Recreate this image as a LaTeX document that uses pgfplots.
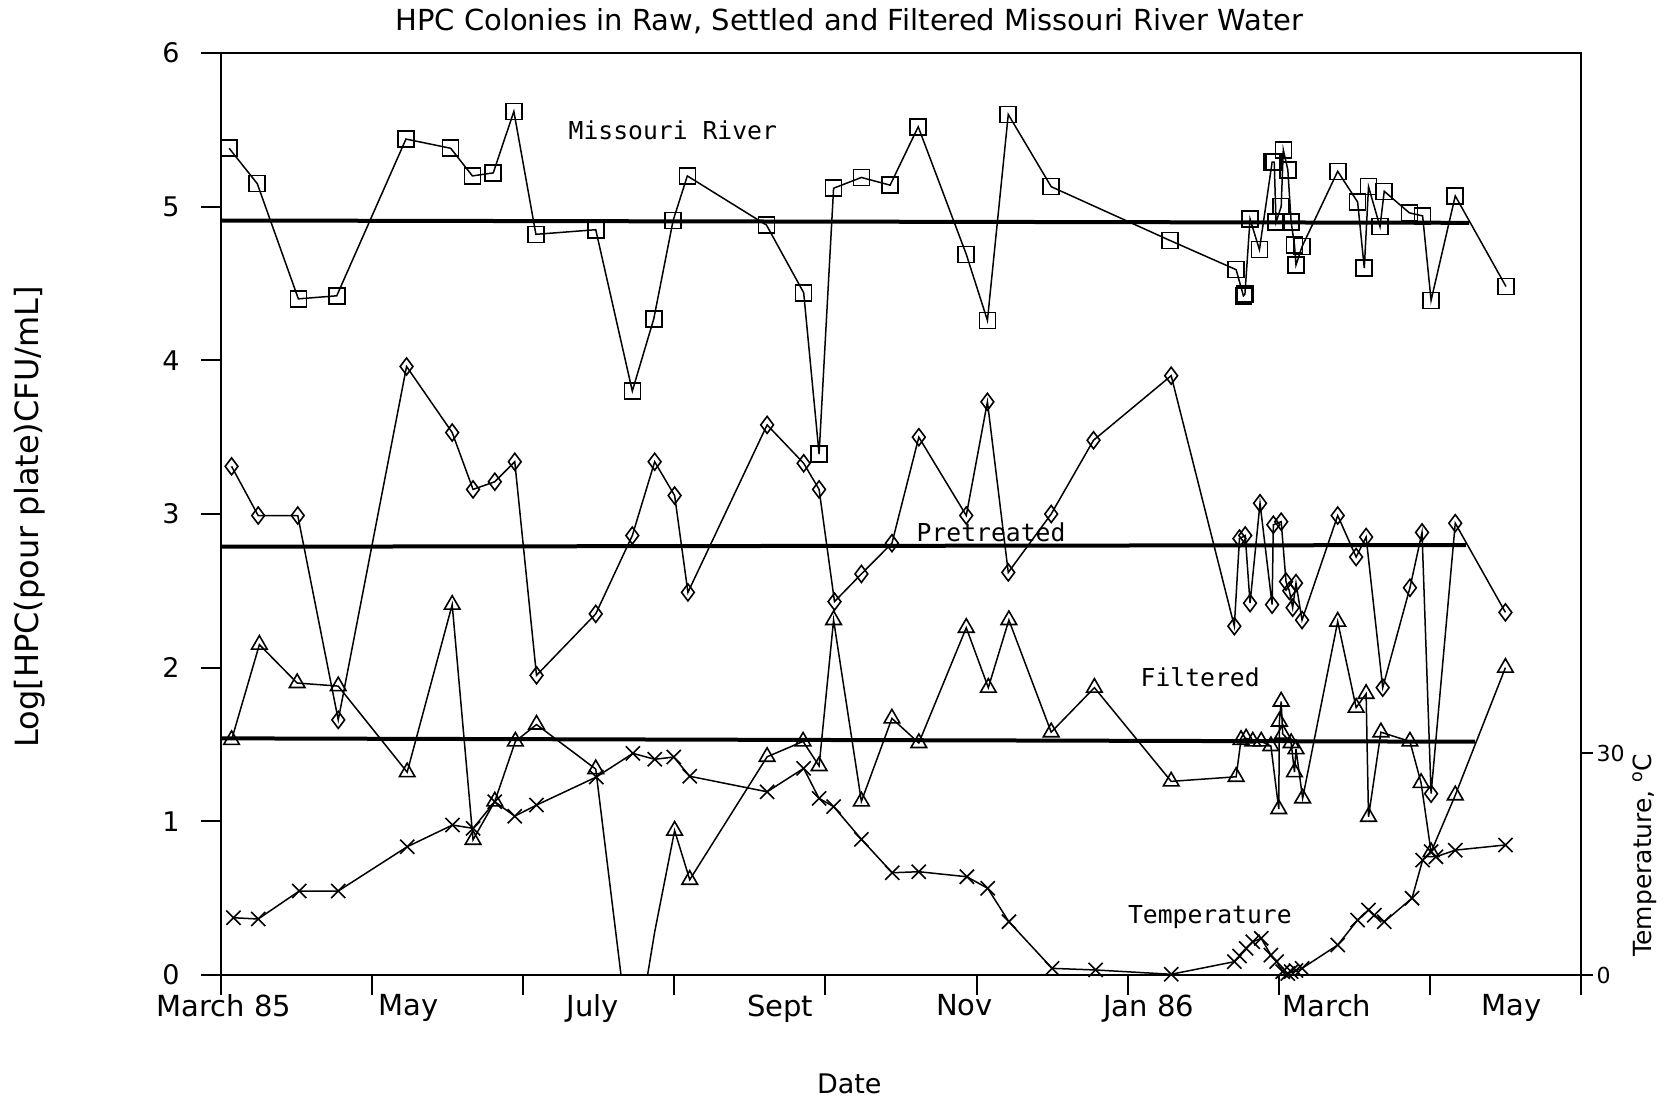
\documentclass[border=0pt]{standalone}
\usepackage{fontspec}
\setmainfont{DejaVu Sans}
\newfontfamily\monofont{DejaVu Sans Mono}
\usepackage{pgfplots}
\pgfplotsset{compat=1.18}
\begin{document}
\begin{tikzpicture}
\path[use as bounding box] (-221pt,-126pt) rectangle (1454pt,975pt);
\begin{axis}[
  at={(0,0)}, anchor=south west,
  scale only axis, width=1360pt, height=922pt,
  xmin=0, xmax=450, ymin=0, ymax=6,
  axis line style={line width=2pt},
  xtick={0,50,...,450}, xticklabels={},
  extra x ticks={1,62,123,185,246,307,366,427},
  extra x tick labels={March 85,May,July,Sept,Nov,Jan 86,March,May},
  extra x tick style={major tick length=0pt, tick label style={yshift=-16pt}},
  ytick={0,1,2,3,4,5,6},
  xtick pos=bottom, ytick pos=left,
  tick align=outside,
  major tick length=20pt,
  every tick/.style={line width=2pt, black},
  x tick label style={font=\fontsize{29}{34}\selectfont},
  y tick label style={font=\fontsize{27}{32}\selectfont, xshift=-18pt},
  /pgf/number format/assume math mode=true,
  title={HPC Colonies in Raw, Settled and Filtered Missouri River Water},
  title style={at={(axis description cs:0.462,1.028)}, anchor=center, font=\fontsize{29}{34}\selectfont},
  xlabel={Date},
  xlabel style={at={(axis description cs:0.462,-0.118)}, anchor=center, font=\fontsize{27}{32}\selectfont},
  ylabel={Log[HPC(pour plate)CFU/mL]},
  ylabel style={at={(axis description cs:-0.1404,0.497)}, anchor=center, font=\fontsize{32}{36}\selectfont},
  every axis plot/.append style={black, line width=1.5pt},
  mark options={solid, line width=1.6pt},
]
% mean lines
\addplot[line width=4pt, no markers] coordinates {(0,4.91) (413,4.895)};
\addplot[line width=4pt, no markers] coordinates {(0,2.787) (412,2.798)};
\addplot[line width=4pt, no markers] coordinates {(0,1.54) (415,1.518)};
% Missouri River
\addplot[mark=square, mark size=8pt] coordinates {
(2.7,5.38) (12.0,5.15) (25.6,4.40) (38.3,4.42) (61.2,5.44) (76.0,5.38) (83.2,5.20) (90.1,5.22)
(96.9,5.62) (104.2,4.82) (124.0,4.85) (136.1,3.80) (143.2,4.27) (149.6,4.91) (154.3,5.20)
(180.5,4.88) (192.8,4.44) (197.9,3.39) (202.7,5.12) (211.9,5.19) (221.4,5.14) (230.7,5.52)
(246.6,4.69) (253.6,4.26) (260.5,5.60) (274.7,5.13) (314.0,4.78) (335.9,4.59) (338.3,4.42)
(338.8,4.43) (340.5,4.92) (343.6,4.72) (347.8,5.29) (348.5,5.29) (349.1,4.90) (350.8,5.00)
(351.5,5.37) (353.0,5.24) (354.1,4.90) (355.2,4.75) (355.7,4.62) (357.7,4.74) (369.5,5.23)
(376.1,5.03) (378.3,4.60) (379.7,5.13) (383.5,4.87) (384.9,5.10) (393.2,4.96) (397.6,4.94)
(400.4,4.39) (408.4,5.07) (425.2,4.48)
};
% Pretreated
\addplot[mark=diamond, mark size=8.5pt] coordinates {
(3.5,3.31) (12.3,2.99) (25.4,2.99) (38.8,1.66) (61.4,3.96) (76.5,3.53) (83.4,3.16) (90.6,3.21)
(97.2,3.34) (104.4,1.95) (124.0,2.35) (136.1,2.86) (143.5,3.34) (150.1,3.12) (154.5,2.49)
(180.7,3.58) (192.8,3.33) (197.9,3.16) (203.0,2.43) (211.9,2.61) (222.0,2.81) (230.9,3.50)
(246.6,2.99) (253.6,3.73) (260.5,2.62) (274.7,3.00) (288.7,3.48) (314.4,3.90) (335.3,2.27)
(337.0,2.84) (338.9,2.86) (340.5,2.42) (343.8,3.07) (347.8,2.41) (348.2,2.93) (350.8,2.95)
(352.4,2.56) (353.5,2.50) (354.6,2.39) (355.7,2.55) (357.7,2.31) (369.5,2.99) (375.6,2.72)
(378.9,2.85) (384.4,1.87) (393.4,2.52) (397.4,2.88) (400.4,1.18) (408.4,2.94) (425.0,2.36)
};
% Filtered
\addplot[mark=triangle, mark size=9pt,
  mark indices={1,2,3,4,5,6,7,8,9,10,11,13,14,15,16,17,18,19,20,21,22,23,24,25,26,27,28,29,30,31,32,33,34,35,36,37,38,39,40,41,42,43,44,45,46,47,48,49,50,51,52}] coordinates {
(3.5,1.53) (12.7,2.15) (25.2,1.90) (38.8,1.88) (61.6,1.32) (76.5,2.41) (83.4,0.88) (90.6,1.13)
(97.4,1.52) (104.4,1.63) (124.0,1.34) (136.1,-0.6) (143.5,0.28) (150.1,0.94) (155.1,0.62)
(180.7,1.42) (192.6,1.52) (197.9,1.36) (202.7,2.31) (211.9,1.13) (222.0,1.67) (230.9,1.51)
(246.6,2.26) (253.9,1.87) (260.7,2.31) (274.7,1.58) (289.0,1.87) (314.4,1.26) (335.9,1.29)
(337.5,1.53) (339.2,1.54) (341.4,1.52) (344.2,1.52) (347.4,1.49) (350.0,1.08) (350.2,1.65)
(350.8,1.78) (351.3,1.57) (354.1,1.51) (355.2,1.32) (355.7,1.47) (357.9,1.15) (369.5,2.30)
(375.6,1.74) (378.9,1.83) (379.7,1.03) (383.8,1.58) (393.4,1.52) (397.1,1.25) (400.4,0.80)
(408.4,1.17) (425.0,2.00)
};
\node[font=\monofont\fontsize{24.7}{28}\selectfont] at (axis cs:149.5,5.50) {Missouri River};
\node[font=\monofont\fontsize{24.7}{28}\selectfont] at (axis cs:254.8,2.88) {Pretreated};
\node[font=\monofont\fontsize{24.7}{28}\selectfont] at (axis cs:324,1.94) {Filtered};
\node[font=\monofont\fontsize{24.7}{28}\selectfont] at (axis cs:327.2,0.38) {Temperature};
\end{axis}
\begin{axis}[
  at={(0,0)}, anchor=south west,
  scale only axis, width=1360pt, height=922pt,
  xmin=0, xmax=450, ymin=0, ymax=124.8,
  axis x line=none, axis y line*=right,
  axis line style={line width=2pt},
  ytick={0,30},
  tick align=outside, major tick length=12pt,
  every tick/.style={line width=2pt, black},
  y tick label style={font=\fontsize{22}{26}\selectfont},
  /pgf/number format/assume math mode=true,
  ylabel={Temperature, \textsuperscript{o}C},
  ylabel style={at={(axis description cs:1.047,0.13)}, anchor=center, rotate=0, font=\fontsize{25}{29}\selectfont},
  every axis plot/.append style={black, line width=1.5pt},
  mark options={solid, line width=1.6pt},
]
\addplot[mark=x, mark size=10pt] coordinates {
(4.1,7.75) (12.3,7.58) (25.9,11.37) (38.8,11.37) (61.6,17.36) (76.6,20.3) (83.4,19.85) (90.6,23.45)
(97.2,21.5) (104.4,23.0) (124.2,26.8) (136.3,30.0) (143.5,29.2) (149.8,29.5) (155.1,26.9)
(180.7,24.8) (192.8,27.97) (197.9,23.9) (202.7,22.8) (211.9,18.36) (222.1,13.84) (230.9,13.98)
(246.8,13.3) (253.7,11.73) (260.7,7.21) (275.0,0.9) (289.4,0.68) (314.4,0.1) (335.3,1.8)
(337.0,2.57) (339.2,3.6) (341.4,4.5) (344.2,4.96) (347.4,2.7) (349.3,1.8) (351.3,0.45)
(353.0,0.2) (354.1,0.45) (355.7,0.6) (357.7,0.9) (369.5,4.06) (376.1,7.44) (379.7,8.8)
(381.6,8.1) (384.9,7.2) (394.1,10.4) (397.6,15.56) (400.4,16.7) (402.0,16.0) (408.4,16.9)
(425.0,17.6)
};
\end{axis}
\end{tikzpicture}
\end{document}
